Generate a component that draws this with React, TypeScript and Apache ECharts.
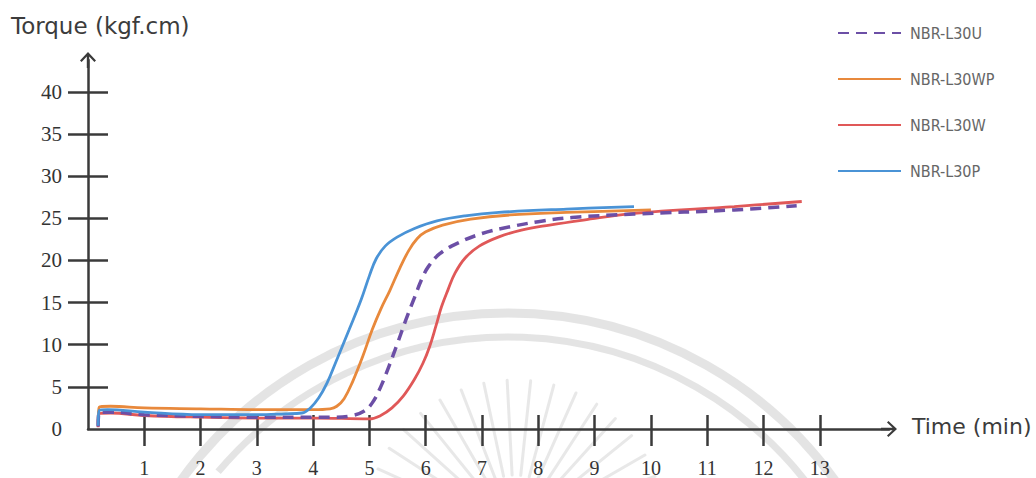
import React, { useEffect, useRef } from "react";
import * as echarts from "echarts";

// Rheometer cure curves: torque (kgf.cm) against time (min)
const seriesNames = ["NBR-L30U", "NBR-L30WP", "NBR-L30W", "NBR-L30P"];
const seriesColors = ["#6c4fa6", "#e8893c", "#e05858", "#4a93d6"];

const timeTicks = [1, 2, 3, 4, 5, 6, 7, 8, 9, 10, 11, 12, 13];
const torqueTicks = [5, 10, 15, 20, 25, 30, 35, 40];
const torqueLabels = [0, 5, 10, 15, 20, 25, 30, 35, 40];

const curveL30U: [number, number][] = [
  [0.18, 0.3], [0.2, 2.0], [0.4, 2.0], [1, 1.7], [2, 1.5], [3, 1.4], [4, 1.4],
  [4.4, 1.4], [4.7, 1.6], [4.9, 2.1], [5.05, 3.1], [5.2, 5.0], [5.35, 7.5],
  [5.5, 10.2], [5.65, 13.0], [5.8, 15.6], [5.93, 17.8], [6.05, 19.3], [6.25, 20.8],
  [6.55, 22.0], [7.0, 23.2], [7.5, 24.0], [8.0, 24.6], [8.6, 25.1], [9.7, 25.5],
  [11.48, 26.0], [12.59, 26.5],
];

const curveL30WP: [number, number][] = [
  [0.18, 0.5], [0.2, 2.6], [0.4, 2.7], [1, 2.5], [2, 2.4], [3, 2.3], [4, 2.3],
  [4.3, 2.4], [4.42, 2.7], [4.55, 3.6], [4.7, 5.6], [4.88, 8.6], [5.05, 11.8],
  [5.2, 14.2], [5.36, 16.4], [5.54, 19.1], [5.7, 21.2], [5.85, 22.6], [6.0, 23.4],
  [6.3, 24.2], [6.8, 24.9], [7.5, 25.4], [8.5, 25.7], [10.0, 26.0],
];

const curveL30W: [number, number][] = [
  [0.18, 0.2], [0.2, 1.8], [0.4, 1.9], [1, 1.6], [2, 1.4], [3, 1.3], [4, 1.3],
  [5.0, 1.2], [5.2, 1.6], [5.4, 2.5], [5.6, 3.9], [5.8, 5.9], [5.95, 7.8],
  [6.07, 9.8], [6.18, 12.2], [6.28, 14.5], [6.4, 16.6], [6.52, 18.5], [6.7, 20.3],
  [6.95, 21.7], [7.3, 22.8], [7.7, 23.6], [8.2, 24.2], [8.8, 24.8], [9.7, 25.6],
  [11.48, 26.4], [12.68, 27.0],
];

const curveL30P: [number, number][] = [
  [0.18, 0.4], [0.2, 2.2], [0.35, 2.3], [1, 2.0], [2, 1.7], [3, 1.7], [3.5, 1.8],
  [3.8, 1.9], [3.95, 2.5], [4.1, 3.7], [4.25, 5.5], [4.4, 7.9], [4.64, 11.8],
  [4.85, 15.3], [5.0, 18.2], [5.12, 20.2], [5.28, 21.7], [5.5, 22.8], [5.8, 23.8],
  [6.2, 24.7], [6.7, 25.3], [7.3, 25.7], [8.5, 26.1], [9.7, 26.4],
];

const curves = [curveL30U, curveL30WP, curveL30W, curveL30P];

const AXIS_COLOR = "#3a3a3a";
// chevron arrow head with a stem, pointing up before ECharts rotates it
const ARROW =
  "path://M8,0 L16,8.6 L14.4,10 L9.2,4.4 L9.2,16 L6.8,16 L6.8,4.4 L1.6,10 L0,8.6 Z";

function watermark() {
  const els: any[] = [];
  const cx = 508;
  const cy = 716;
  els.push({
    type: "arc",
    z: -10,
    silent: true,
    shape: { cx, cy, r: 403, startAngle: Math.PI + 0.6, endAngle: 2 * Math.PI - 0.6, clockwise: true },
    style: { stroke: "#d2d2d2", lineWidth: 9, fill: null, opacity: 0.6 },
  });
  els.push({
    type: "arc",
    z: -10,
    silent: true,
    shape: { cx, cy, r: 379, startAngle: Math.PI + 0.7, endAngle: 2 * Math.PI - 0.62, clockwise: true },
    style: { stroke: "#d2d2d2", lineWidth: 7, fill: null, opacity: 0.6 },
  });
  const rx = 515;
  const ry = 530;
  for (let a = -165; a <= -15; a += 9) {
    const rad = (a * Math.PI) / 180;
    els.push({
      type: "line",
      z: -10,
      silent: true,
      shape: {
        x1: rx + 55 * Math.cos(rad),
        y1: ry + 55 * Math.sin(rad),
        x2: rx + 150 * Math.cos(rad),
        y2: ry + 150 * Math.sin(rad),
      },
      style: { stroke: "#d9d9d9", lineWidth: 3, lineCap: "round", opacity: 0.6 },
    });
  }
  return els;
}

export default function App() {
  const ref = useRef<HTMLDivElement>(null);

  useEffect(() => {
    if (!ref.current) return;
    const chart = echarts.init(ref.current, undefined, { renderer: "svg" });

    const baseX = {
      type: "value" as const,
      min: 0,
      max: 14.23,
      position: "bottom" as const,
      splitLine: { show: false },
    };
    const baseY = {
      type: "value" as const,
      min: 0,
      max: 43.79,
      position: "left" as const,
      splitLine: { show: false },
    };

    chart.setOption({
      animation: false,
      backgroundColor: "#ffffff",
      grid: { left: 88, top: 60, width: 801, height: 370, containLabel: false },
      legend: {
        data: seriesNames,
        orient: "vertical",
        left: 832,
        top: 20,
        itemWidth: 63,
        itemHeight: 14,
        itemGap: 30,
        itemStyle: { color: "rgba(0,0,0,0)", borderWidth: 0, borderColor: "rgba(0,0,0,0)" },
        textStyle: {
          fontFamily: "DejaVu Sans Condensed",
          fontSize: 16,
          color: "#666666",
          padding: [0, 0, 0, 4],
        },
      },
      xAxis: [
        {
          ...baseX,
          axisLine: {
            show: true,
            lineStyle: { color: AXIS_COLOR, width: 2.5 },
            symbol: ["none", ARROW],
            symbolSize: [16, 16],
          },
          axisTick: {
            show: true,
            customValues: timeTicks,
            length: 17,
            lineStyle: { color: AXIS_COLOR, width: 2.5 },
          },
          axisLabel: {
            show: true,
            customValues: timeTicks,
            margin: 29,
            fontFamily: "Liberation Serif",
            fontSize: 20,
            color: "#333333",
          },
        },
        {
          ...baseX,
          axisLine: { show: false },
          axisTick: {
            show: true,
            inside: true,
            customValues: timeTicks,
            length: 14,
            lineStyle: { color: AXIS_COLOR, width: 2.5 },
          },
          axisLabel: { show: false },
        },
      ],
      yAxis: [
        {
          ...baseY,
          axisLine: {
            show: true,
            lineStyle: { color: AXIS_COLOR, width: 2.5 },
            symbol: ["none", ARROW],
            symbolSize: [16, 16],
          },
          axisTick: {
            show: true,
            customValues: torqueTicks,
            length: 20,
            lineStyle: { color: AXIS_COLOR, width: 2.5 },
          },
          axisLabel: {
            show: true,
            customValues: torqueLabels,
            margin: 26,
            fontFamily: "Liberation Serif",
            fontSize: 21,
            color: "#333333",
          },
        },
        {
          ...baseY,
          axisLine: { show: false },
          axisTick: {
            show: true,
            inside: true,
            customValues: torqueTicks,
            length: 20,
            lineStyle: { color: AXIS_COLOR, width: 2.5 },
          },
          axisLabel: { show: false },
        },
      ],
      graphic: [
        ...watermark(),
        {
          type: "text",
          left: 11,
          top: 14,
          style: {
            text: "Torque (kgf.cm)",
            fontFamily: "DejaVu Sans",
            fontSize: 23,
            fill: "#3c3c3c",
          },
        },
        {
          type: "text",
          left: 912,
          top: 415,
          style: {
            text: "Time (min)",
            fontFamily: "DejaVu Sans",
            fontSize: 22,
            fill: "#3c3c3c",
          },
        },
      ],
      series: seriesNames.map((name, i) => ({
        name,
        type: "line",
        xAxisIndex: 0,
        yAxisIndex: 0,
        data: curves[i],
        symbol: "none",
        smooth: 0.4,
        z: i === 0 ? 6 : 3 + i,
        lineStyle: {
          color: seriesColors[i],
          width: i === 0 ? 3.5 : 2.8,
          type: i === 0 ? [11, 7] : "solid",
        },
        itemStyle: { color: seriesColors[i] },
      })),
    });

    return () => chart.dispose();
  }, []);

  return (
    <div
      ref={ref}
      style={{ position: "fixed", left: 0, top: 0, width: 1036, height: 478, background: "#fff" }}
    />
  );
}
